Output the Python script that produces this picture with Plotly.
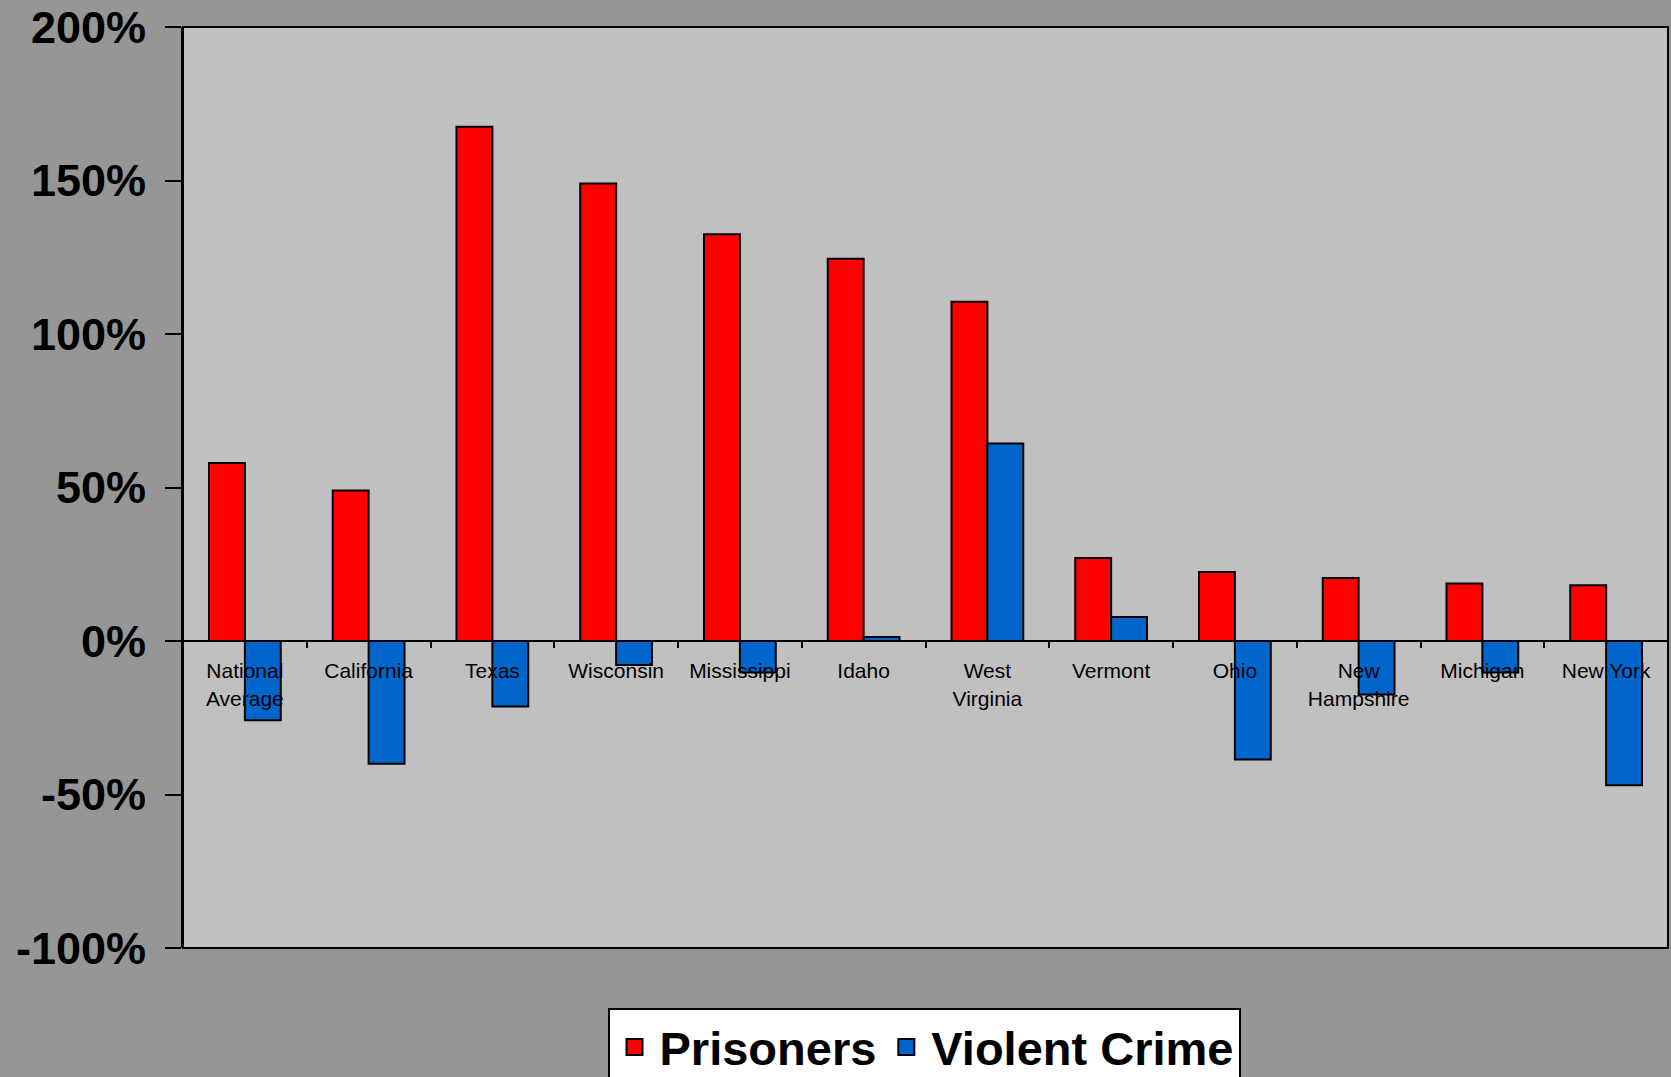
import plotly.graph_objects as go

categories = ["National<br>Average", "California", "Texas", "Wisconsin", "Mississippi",
              "Idaho", "West<br>Virginia", "Vermont", "Ohio", "New<br>Hampshire",
              "Michigan", "New York"]
prisoners = [58, 49, 167.5, 149, 132.5, 124.5, 110.5, 27, 22.5, 20.5, 18.7, 18.2]
violent_crime = [-25.8, -40, -21.3, -7.8, -10.3, 1.3, 64.3, 7.8, -38.6, -17.4, -10.3, -47]
y_ticks = [-100, -50, 0, 50, 100, 150, 200]
y_tick_labels = ["-100%", "-50%", "0%", "50%", "100%", "150%", "200%"]
series_names = ["Prisoners", "Violent Crime"]
series_colors = ["#FF0000", "#0066CC"]

W, H = 1671, 1077
ml, mr, mt, mb = 183, 3, 27, 129
FONT = "Liberation Sans, Arial, sans-serif"

fig = go.Figure()
for name, vals, col in zip(series_names, [prisoners, violent_crime], series_colors):
    fig.add_trace(go.Bar(x=categories, y=vals, name=name, showlegend=False,
                         marker=dict(color=col, line=dict(color="black", width=2))))
# legend entries with larger square swatches
for name, col in zip(series_names, series_colors):
    fig.add_trace(go.Scatter(x=[None], y=[None], name=name, mode="markers",
                             marker=dict(symbol="square", size=16, color=col,
                                         line=dict(color="black", width=2))))

fig.update_layout(
    width=W, height=H,
    margin=dict(l=ml, r=mr, t=mt, b=mb, pad=0, autoexpand=False),
    paper_bgcolor="#969696",
    plot_bgcolor="#C0C0C0",
    barmode="group", bargap=0.42, bargroupgap=0,
    font=dict(family=FONT, color="black"),
    showlegend=True,
    legend=dict(orientation="h", xref="container", yref="container",
                x=924 / W, xanchor="center", y=1 - 1008 / H, yanchor="top",
                bgcolor="white", bordercolor="black", borderwidth=2,
                font=dict(size=47, family=FONT, color="black", weight="bold"),
                traceorder="normal", itemsizing="trace", itemwidth=40),
    xaxis=dict(anchor="free", position=1/3, showline=True, linecolor="black", linewidth=2,
               ticks="outside", tickson="boundaries", ticklen=6, tickwidth=2, tickcolor="black",
               tickfont=dict(size=21, family=FONT), showgrid=False, zeroline=False,
               ticklabelstandoff=11),
    yaxis=dict(range=[-100, 200], domain=[0, 1], tickvals=y_ticks, ticktext=y_tick_labels,
               tickfont=dict(size=45, family=FONT, weight="bold"),
               showline=True, linecolor="black", linewidth=2,
               ticks="outside", ticklen=16, tickwidth=2, tickcolor="black",
               showgrid=False, zeroline=False, ticklabelstandoff=10),
    shapes=[dict(type="rect", xref="paper", yref="paper", x0=0, x1=1, y0=0, y1=1,
                 line=dict(color="black", width=2), layer="above")],
)

fig.write_html("out.html", config={"displayModeBar": False},
               post_script="document.body.style.margin='0';document.body.style.overflow='hidden';")
